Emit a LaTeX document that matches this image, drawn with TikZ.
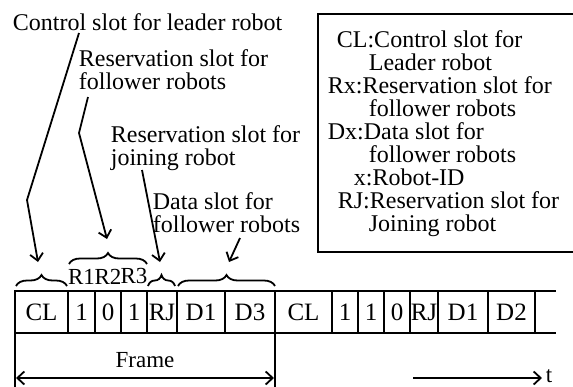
\documentclass[tikz,border=0pt]{standalone}
\usepackage{fontspec}
\setmainfont{Liberation Serif}
\usetikzlibrary{arrows.meta,positioning,calc,decorations.pathreplacing}

\tikzset{
  slot/.style={draw, rectangle, inner sep=0pt, outer sep=0pt, minimum height=42pt, font=\fontsize{25}{25}\selectfont},
  lbl/.style={inner sep=0pt, align=left, anchor=base west, font=\fontsize{24}{23}\selectfont},
  rlab/.style={inner sep=0pt, font=\fontsize{23}{23}\selectfont},
  brc/.style={decorate, decoration={brace, amplitude=11pt, raise=#1}},
  brc/.default=5pt,
}

\begin{document}
\begin{tikzpicture}[x=1pt, y=-1pt, line width=1.8pt, >={Straight Barb[length=7pt,width=13pt]}]
        \useasboundingbox (0,0) rectangle (573,386);

        % first frame
        \node[slot, minimum width=53pt] (cl1) at (41.5,312) {CL};
        \node[slot, minimum width=27pt] (r11) at (81.5,312) {1};
        \node[slot, minimum width=26pt] (r21) at (108,312) {0};
        \node[slot, minimum width=26pt] (r31) at (134,312) {1};
        \node[slot, minimum width=30pt] (rj1) at (162,312) {RJ};
        \node[slot, minimum width=48pt] (d11) at (201,312) {D1};
        \node[slot, minimum width=50pt] (d31) at (250,312) {D3};
        % next frame
        \node[slot, minimum width=57pt] (cl2) at (303.5,312) {CL};
        \node[slot, minimum width=26pt] (r12) at (345,312) {1};
        \node[slot, minimum width=26pt] (r22) at (371,312) {1};
        \node[slot, minimum width=26pt] (r32) at (397,312) {0};
        \node[slot, minimum width=28pt] (rj2) at (424,312) {RJ};
        \node[slot, minimum width=50pt] (d12) at (463,312) {D1};
        \node[slot, minimum width=47pt] (d22) at (511.5,312) {D2};
        \draw (d22.north east) -- ++(21,0);
        \draw (d22.south east) -- ++(21,0);

        % braces
        \draw[brc] ([xshift=1pt]cl1.north west) -- ([xshift=-1pt]cl1.north east);
        \draw[brc=27pt] ([xshift=1pt]r11.north west) -- (r31.north east);
        \draw[brc] ([xshift=1pt]rj1.north west) -- ([xshift=-2pt]rj1.north east);
        \draw[brc] ([xshift=1pt]d11.north west) -- (d31.north east);
        \node[rlab, above=6pt of r11] (lr1) {R1};
        \node[rlab, above=6pt of r21] (lr2) {R2};
        \node[rlab, above=6pt of r31] (lr3) {R3};

        % labels (base = last line)
        \node[lbl] (ctl) at (12,30) {Control slot for leader robot};
        \node[lbl] (rsvf) at (78,89) {Reservation slot for\\follower robots};
        \node[lbl] (rsvj) at (110,165) {Reservation slot for\\joining robot};
        \node[lbl] (dat) at (152,232) {Data slot for\\follower robots};

        \coordinate (c1) at (79,33);
        \coordinate (k1) at (27,200);
        \coordinate (e1) at (38,262);
        \coordinate (c2) at (88,97);
        \coordinate (k2) at (79,133);
        \coordinate (e2) at (107,239);
        \coordinate (c3) at (142,170);
        \coordinate (e3) at (160,262);
        \coordinate (c4) at (240,238);
        \coordinate (e4) at (229,262);
        \draw[->] (c1) -- (k1) -- (e1);
        \draw[->] (c2) -- (k2) -- (e2);
        \draw[->] (c3) -- (e3);
        \draw[->] (c4) -- (e4);

        % legend
        \draw (318,14) rectangle (577,252);
        \node[lbl] (key) at (327,231) {\hspace*{9pt}CL:Control slot for\\
            \hspace*{41pt}Leader robot\\
            Rx:Reservation slot for\\
            \hspace*{41pt}follower robots\\
            Dx:Data slot for\\
            \hspace*{41pt}follower robots\\
            \hspace*{26pt}x:Robot-ID\\
            \hspace*{10pt}RJ:Reservation slot for\\
            \hspace*{41pt}Joining robot};

        % frame and time
        \draw (cl1.south west) -- (15,390);
        \draw (d31.south east) -- (275,390);
        \coordinate (fl) at (16,378);
        \coordinate (fr) at (274,378);
        \draw[<->] (fl) -- node[rlab, above=9pt] (frm) {Frame} (fr);

        \node[rlab, anchor=base west] (tlab) at (545,382) {t};
        \coordinate (ts) at (413,378);
        \draw[->] (ts) -- ([xshift=-3pt]ts -| tlab.west);
    \end{tikzpicture}
\end{document}
